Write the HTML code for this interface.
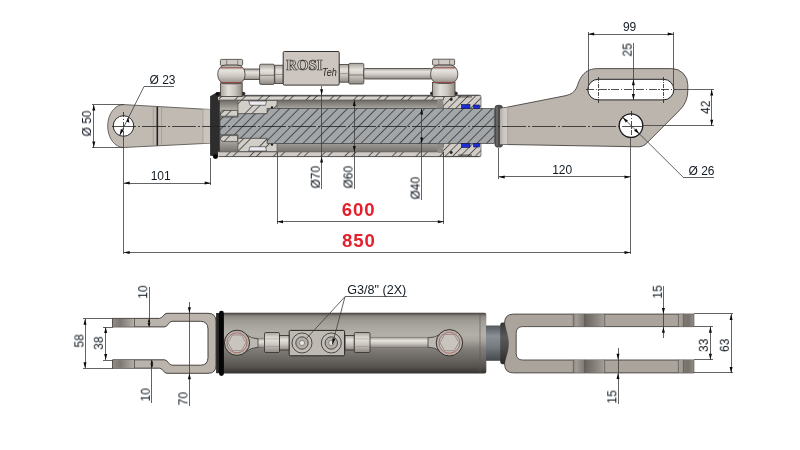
<!DOCTYPE html>
<html><head><meta charset="utf-8">
<style>
html,body{margin:0;padding:0;background:#fff;}
body{width:800px;height:450px;overflow:hidden;font-family:"Liberation Sans",sans-serif;}
svg{display:block;}
text{font-family:"Liberation Sans",sans-serif;}
.serif{font-family:"Liberation Serif",serif;}
.d{font-size:12px;fill:#121a22;}
text{filter:url(#nf);}
.l{stroke:#3c3c3c;stroke-width:0.8;fill:none;shape-rendering:crispEdges;}
.ld{stroke:#3c3c3c;stroke-width:0.8;fill:none;}
.c{stroke:#222;stroke-width:0.8;fill:none;stroke-dasharray:24 2 2 2;shape-rendering:crispEdges;}
.a{fill:#0a0a0a;}
</style></head><body>
<svg width="800" height="450" viewBox="0 0 800 450">
<defs>
<pattern id="h1" width="6.83" height="6.9" patternUnits="userSpaceOnUse" patternTransform="rotate(45)">
<line x1="1" y1="0" x2="1" y2="6.9" stroke="#151515" stroke-opacity="0.78" stroke-width="0.8" shape-rendering="crispEdges"/></pattern>
<pattern id="h2" width="16.8" height="10" patternUnits="userSpaceOnUse" patternTransform="rotate(45)">
<line x1="1" y1="0" x2="1" y2="10" stroke="#151515" stroke-opacity="0.8" stroke-width="0.8" shape-rendering="crispEdges"/><line x1="6.3" y1="0" x2="6.3" y2="10" stroke="#151515" stroke-opacity="0.8" stroke-width="0.8" shape-rendering="crispEdges"/></pattern>
<linearGradient id="gv" x1="0" y1="0" x2="0" y2="1">
<stop offset="0" stop-color="#a9a49d"/><stop offset="0.3" stop-color="#e6e3de"/><stop offset="0.6" stop-color="#cbc6c0"/><stop offset="1" stop-color="#8f8a84"/></linearGradient>
<linearGradient id="gh" x1="0" y1="0" x2="1" y2="0">
<stop offset="0" stop-color="#a9a49d"/><stop offset="0.35" stop-color="#e2dfda"/><stop offset="0.65" stop-color="#cbc6c0"/><stop offset="1" stop-color="#8f8a84"/></linearGradient>
<linearGradient id="cyl" x1="0" y1="0" x2="0" y2="1">
<stop offset="0" stop-color="#3c3936"/><stop offset="0.03" stop-color="#6e6a65"/><stop offset="0.06" stop-color="#8c8883"/><stop offset="0.13" stop-color="#9e9a94"/><stop offset="0.23" stop-color="#aaa6a0"/><stop offset="0.36" stop-color="#b3afa9"/><stop offset="0.45" stop-color="#a9a59f"/><stop offset="0.6" stop-color="#807c77"/><stop offset="0.76" stop-color="#6a6662"/><stop offset="0.89" stop-color="#55514d"/><stop offset="1" stop-color="#343230"/></linearGradient>
<linearGradient id="rod" x1="0" y1="0" x2="0" y2="1">
<stop offset="0" stop-color="#54585c"/><stop offset="0.3" stop-color="#8a9096"/><stop offset="0.6" stop-color="#767b80"/><stop offset="1" stop-color="#45484b"/></linearGradient>
<linearGradient id="hole" x1="0" y1="0" x2="1" y2="0">
<stop offset="0" stop-color="#8d8984"/><stop offset="0.5" stop-color="#b5b1ab"/><stop offset="1" stop-color="#858079"/></linearGradient>
<linearGradient id="hole2" x1="0" y1="0" x2="1" y2="0">
<stop offset="0" stop-color="#918b85"/><stop offset="0.35" stop-color="#7d7872"/><stop offset="1" stop-color="#b6b0a9"/></linearGradient>
<linearGradient id="holeA" x1="0" y1="0" x2="1" y2="0">
<stop offset="0" stop-color="#8a847e"/><stop offset="0.25" stop-color="#a39d97"/><stop offset="0.7" stop-color="#8d8781"/><stop offset="1" stop-color="#7b7670"/></linearGradient>
<linearGradient id="holeB" x1="0" y1="0" x2="1" y2="0">
<stop offset="0" stop-color="#69645f"/><stop offset="0.4" stop-color="#7f7a74"/><stop offset="1" stop-color="#a59f99"/></linearGradient>
<linearGradient id="band" x1="0" y1="0" x2="1" y2="0"><stop offset="0" stop-color="#b0aba5"/><stop offset="0.5" stop-color="#ccc7c1"/><stop offset="1" stop-color="#cfcac4"/></linearGradient>
<pattern id="h3" width="5.3" height="6" patternUnits="userSpaceOnUse" patternTransform="rotate(45)"><line x1="1" y1="0" x2="1" y2="6" stroke="#151515" stroke-opacity="0.8" stroke-width="0.8" shape-rendering="crispEdges"/></pattern>
<filter id="nf" x="-20%" y="-20%" width="140%" height="140%"><feOffset dx="0" dy="0"/></filter>
<linearGradient id="bore" x1="0" y1="0" x2="0" y2="1">
<stop offset="0" stop-color="#8f8b85"/><stop offset="0.08" stop-color="#6c6863"/><stop offset="0.215" stop-color="#aaa6a0"/><stop offset="0.785" stop-color="#9f9b96"/><stop offset="0.91" stop-color="#7a7570"/><stop offset="1" stop-color="#7a7570"/></linearGradient>
<linearGradient id="wallt" x1="0" y1="0" x2="0" y2="1">
<stop offset="0" stop-color="#85817c"/><stop offset="0.3" stop-color="#9c9893"/><stop offset="0.42" stop-color="#d6d3cd"/><stop offset="1" stop-color="#d6d3cd"/></linearGradient>
<linearGradient id="holeC" x1="0" y1="0" x2="1" y2="0"><stop offset="0" stop-color="#7d7872"/><stop offset="0.5" stop-color="#77726c"/><stop offset="1" stop-color="#928c86"/></linearGradient>
<linearGradient id="ringg" x1="0" y1="0" x2="0" y2="1"><stop offset="0" stop-color="#353535"/><stop offset="0.35" stop-color="#5a5a5a"/><stop offset="0.6" stop-color="#4a4a4a"/><stop offset="1" stop-color="#2a2a2a"/></linearGradient>
</defs>
<rect width="800" height="450" fill="#fff"/>

<!-- ================= TOP VIEW ================= -->
<g id="topview">
<!-- left rod eye -->
<path d="M123.5,104.6 L210.3,109.5 L210.3,143.2 L123.5,147.5 A15.8,21.45 0 0 1 123.5,104.6 Z" fill="#c0bab3" stroke="#55514d" stroke-width="0.85"/>
<rect x="203" y="109.4" width="7.1" height="33.8" fill="#c9c4be"/>
<line x1="153.3" y1="106.5" x2="153.3" y2="145.8" stroke="#9d9993" stroke-width="0.8"/>
<line x1="157.3" y1="106.7" x2="157.3" y2="145.6" stroke="#222" stroke-width="1.6"/>
<line x1="161.6" y1="107" x2="161.6" y2="145.4" stroke="#9d9993" stroke-width="0.8"/>
<line x1="203" y1="109.2" x2="203" y2="143.5" stroke="#9d9993" stroke-width="0.7"/>
<circle cx="123.5" cy="126" r="10.3" fill="#fff" stroke="#2a2a2a" stroke-width="1"/>

<!-- cylinder bore interior -->
<rect x="218.7" y="95.3" width="262.2" height="61.3" fill="url(#bore)"/>
<!-- outer walls -->
<rect x="218.7" y="95" width="225" height="5.1" fill="url(#wallt)"/>
<rect x="218.7" y="95.3" width="225" height="4.7" fill="url(#h2)"/>
<rect x="218.7" y="151.7" width="225" height="4.9" fill="#d0cbc6"/>
<rect x="218.7" y="151.9" width="225" height="4.7" fill="url(#h2)"/>
<line x1="218.7" y1="100.1" x2="443.5" y2="100.1" stroke="#55514d" stroke-width="0.8"/>
<line x1="218.7" y1="151.8" x2="443.5" y2="151.8" stroke="#55514d" stroke-width="0.8"/>
<!-- rod -->
<path d="M220,117 L238,117 L238,113.6 L267,113.6 L267,108.5 L494.4,108.5 L494.4,143.5 L267,143.5 L267,138.4 L238,138.4 L238,134.8 L220,134.8 Z" fill="#a2a6a9"/>
<path d="M220,117 L238,117 L238,113.6 L267,113.6 L267,108.5 L494.4,108.5 L494.4,143.5 L267,143.5 L267,138.4 L238,138.4 L238,134.8 L220,134.8 Z" fill="url(#h1)" stroke="#3a3a3a" stroke-width="0.7"/>
<!-- piston head -->
<path d="M238,100.5 L277,100.5 L277,108.5 L267,108.5 L267,113.6 L238,113.6 Z" fill="#d2cec8"/>
<path d="M238,100.5 L277,100.5 L277,108.5 L267,108.5 L267,113.6 L238,113.6 Z" fill="url(#h2)" stroke="#444" stroke-width="0.6"/>
<path d="M238,151.5 L277,151.5 L277,143.5 L267,143.5 L267,138.4 L238,138.4 Z" fill="#d2cec8"/>
<path d="M238,151.5 L277,151.5 L277,143.5 L267,143.5 L267,138.4 L238,138.4 Z" fill="url(#h2)" stroke="#444" stroke-width="0.6"/>
<path d="M248.7,101 L266.5,101 L265.5,105.3 L250,105.3 Z" fill="#e9e9ef" stroke="#333" stroke-width="0.6"/>
<path d="M248.7,151 L266.5,151 L265.5,146.7 L250,146.7 Z" fill="#e9e9ef" stroke="#333" stroke-width="0.6"/>
<circle cx="272" cy="107.4" r="1.2" fill="#1a1a1a"/><circle cx="272" cy="144.6" r="1.2" fill="#1a1a1a"/>
<!-- lock nut -->
<path d="M220.5,112 L223,110.5 L237.5,110.5 L237.5,116.2 L220.5,116.2 Z" fill="#d2cec8" stroke="#333" stroke-width="0.6"/>
<path d="M220.5,139.8 L223,141.4 L237.5,141.4 L237.5,135.6 L220.5,135.6 Z" fill="#d2cec8" stroke="#333" stroke-width="0.6"/>
<path d="M220.5,112 L223,110.5 L237.5,110.5 L237.5,116.2 L220.5,116.2 Z" fill="url(#h2)"/>
<path d="M220.5,139.8 L223,141.4 L237.5,141.4 L237.5,135.6 L220.5,135.6 Z" fill="url(#h2)"/>
<!-- gland -->
<path d="M438,100 L443.5,100 L443.5,95.3 L479.5,95.3 Q481,95.3 481,96.8 L481,108.5 L443.5,108.5 L443.5,105 L438,105 Z" fill="#d1ccc6"/>
<path d="M438,100 L443.5,100 L443.5,95.3 L479.5,95.3 Q481,95.3 481,96.8 L481,108.5 L443.5,108.5 L443.5,105 L438,105 Z" fill="url(#h3)" stroke="#444" stroke-width="0.6"/>
<path d="M438,152 L443.5,152 L443.5,156.6 L479.5,156.6 Q481,156.6 481,155.1 L481,143.5 L443.5,143.5 L443.5,147 L438,147 Z" fill="#d1ccc6"/>
<path d="M438,152 L443.5,152 L443.5,156.6 L479.5,156.6 Q481,156.6 481,155.1 L481,143.5 L443.5,143.5 L443.5,147 L438,147 Z" fill="url(#h3)" stroke="#444" stroke-width="0.6"/>
<rect x="461.5" y="104.6" width="8.5" height="3.9" fill="#1a2fd6" stroke="#0a0a40" stroke-width="0.6"/>
<rect x="473.7" y="105" width="5.6" height="3.5" fill="#1a2fd6" stroke="#0a0a40" stroke-width="0.6"/>
<rect x="461.5" y="143.5" width="8.5" height="3.9" fill="#1a2fd6" stroke="#0a0a40" stroke-width="0.6"/>
<rect x="473.7" y="143.5" width="5.6" height="3.5" fill="#1a2fd6" stroke="#0a0a40" stroke-width="0.6"/>
<path d="M458,97.3 l1,-0.8 l1,0.8 l1,-0.8 l1,0.8 l1,-0.8 l1,0.8 l1,-0.8 l1,0.8 l1,-0.8 l1,0.8 l1,-0.8 l1,0.8 l1,-0.8 l1,0.8" stroke="#111" stroke-width="0.75" fill="none"/>
<path d="M458,154.7 l1,0.8 l1,-0.8 l1,0.8 l1,-0.8 l1,0.8 l1,-0.8 l1,0.8 l1,-0.8 l1,0.8 l1,-0.8 l1,0.8 l1,-0.8 l1,0.8 l1,-0.8" stroke="#111" stroke-width="0.75" fill="none"/>
<circle cx="451.2" cy="99.5" r="1.4" fill="#222"/><circle cx="451.2" cy="152.5" r="1.4" fill="#222"/>
<rect x="437" y="100.3" width="6.3" height="8" fill="#8e8a84"/><rect x="437" y="143.7" width="6.3" height="8" fill="#8e8a84"/>
<!-- cylinder outline -->
<path d="M218.7,95.3 L479.5,95.3 M218.7,156.6 L479.5,156.6" stroke="#3a3a3a" stroke-width="0.8" fill="none"/>
<!-- left black ring / end cap -->
<path d="M210.1,96.3 L213.5,94.2 L217,92.6 Q219.4,91 220,93.4 L219.8,96.6 L218,97 L218,100.3 L219.8,100.3 L219.8,151.8 L218,151.8 L218,156 Q217.8,158.8 215.5,158.8 Q213,158.8 213,156 L210.1,155.8 Z" fill="#2d2d2d"/><circle cx="215.5" cy="156.5" r="2.3" fill="#050505"/><ellipse cx="217.6" cy="93.8" rx="2.2" ry="1.7" fill="#0a0a0a"/>
<!-- rod end ring -->
<rect x="494.6" y="104.8" width="8.4" height="42.8" rx="4.2" ry="3.4" fill="#4c4c4c"/><rect x="496" y="106.5" width="2" height="39.4" rx="1" fill="#666"/>

<!-- right rod end plate -->
<path d="M499.8,108.6 L507.6,107.1 L566,95.6 C571,94.5 574.5,92 576.5,88 C578.5,83.5 581,68.6 597.3,68.6 L671.8,68.6 A16,16 0 0 1 687.8,84.6 L687.8,91 A26.8,26.8 0 0 1 679.9,109.9 L646,143.9 A10,10 0 0 1 639,146.8 L499.8,144.4 Z" fill="#bbb5ae" stroke="#47433f" stroke-width="0.9"/>
<path d="M500.1,108.8 L507.6,107.4 L507.6,144.2 L500.1,144.2 Z" fill="url(#band)"/><line x1="507.7" y1="107.2" x2="507.7" y2="144.3" stroke="#97928c" stroke-width="0.6"/>
<rect x="587.8" y="79.3" width="86" height="20.6" rx="10.3" ry="10.3" fill="#fff" stroke="#222" stroke-width="1"/>
<circle cx="631" cy="125.6" r="11.8" fill="#fff" stroke="#1a1a1a" stroke-width="1.3"/>

<!-- fittings: left banjo -->
<ellipse cx="220.4" cy="93.6" rx="2.4" ry="1.8" fill="#2b2b2b"/><ellipse cx="243" cy="93.6" rx="2.4" ry="1.8" fill="#2b2b2b"/>
<ellipse cx="432.4" cy="93.4" rx="2.4" ry="1.8" fill="#2b2b2b"/><ellipse cx="455.4" cy="93.4" rx="2.4" ry="1.8" fill="#2b2b2b"/>
<rect x="220.6" y="83" width="21.6" height="13.5" fill="url(#gh)" stroke="#3d3935" stroke-width="0.8"/>
<rect x="220.4" y="59.4" width="22.2" height="6" rx="1" fill="#cfcac4" stroke="#3d3935" stroke-width="0.8"/><path d="M226.7,59.6 V65.2 M237.8,59.6 V65.2" stroke="#6a6661" stroke-width="0.7"/>
<rect x="244" y="69" width="16" height="10.6" fill="url(#gv)" stroke="#3d3935" stroke-width="0.8"/>
<rect x="217.8" y="65" width="27.2" height="18.8" rx="8" ry="8.5" fill="url(#gv)" stroke="#3d3935" stroke-width="0.8"/>
<line x1="220.5" y1="67.8" x2="242.3" y2="67.8" stroke="#8e4843" stroke-width="1"/>
<line x1="220.5" y1="82.6" x2="242.3" y2="82.6" stroke="#8e4843" stroke-width="1"/>
<!-- left nut + connector -->
<rect x="259.6" y="64.2" width="14.8" height="20.2" rx="1.5" fill="url(#gv)" stroke="#3d3935" stroke-width="0.8"/>
<line x1="260" y1="75.3" x2="275" y2="75.3" stroke="#5d5954" stroke-width="0.7"/>
<rect x="274.8" y="65.2" width="8.4" height="18.4" fill="url(#gv)" stroke="#3d3935" stroke-width="0.8"/>
<line x1="275" y1="74.5" x2="283.4" y2="74.5" stroke="#77736e" stroke-width="0.6"/>
<!-- valve block -->
<rect x="283.2" y="51.5" width="56" height="33.6" rx="1.2" fill="#ccc5c0" stroke="#35322f" stroke-width="1"/>
<text class="serif" x="286.2" y="70" font-weight="bold" font-size="13.6" fill="#ded8d3" stroke="#38342f" stroke-width="0.7" textLength="36.5" lengthAdjust="spacingAndGlyphs">ROSI</text>
<text x="322" y="75.8" font-style="italic" font-size="10.4" fill="#2a2725" textLength="14.8" lengthAdjust="spacingAndGlyphs">Teh</text>
<!-- right connector + nut + pipe -->
<rect x="339.4" y="64.4" width="9.4" height="17.8" fill="url(#gv)" stroke="#3d3935" stroke-width="0.8"/>
<line x1="339.4" y1="73.6" x2="348.8" y2="73.6" stroke="#77736e" stroke-width="0.6"/>
<rect x="348.8" y="63.4" width="15" height="20.6" rx="1.2" fill="url(#gv)" stroke="#3d3935" stroke-width="0.8"/>
<line x1="348.8" y1="75" x2="363.8" y2="75" stroke="#5d5954" stroke-width="0.7"/>
<rect x="363.8" y="68.5" width="68.5" height="10.5" rx="1.5" fill="url(#gv)" stroke="#3d3935" stroke-width="0.8"/>
<!-- right banjo -->
<rect x="432.5" y="82.5" width="22.5" height="14" fill="url(#gh)" stroke="#3d3935" stroke-width="0.8"/>
<rect x="432.6" y="59.2" width="22" height="6" rx="1" fill="#cfcac4" stroke="#3d3935" stroke-width="0.8"/><path d="M438.8,59.4 V65 M449.6,59.4 V65" stroke="#6a6661" stroke-width="0.7"/>
<rect x="430.6" y="65" width="27.2" height="18.4" rx="8" ry="8.5" fill="url(#gv)" stroke="#3d3935" stroke-width="0.8"/>
<line x1="433.3" y1="67.8" x2="455.2" y2="67.8" stroke="#8e4843" stroke-width="1"/>
<line x1="433.3" y1="82.4" x2="455.2" y2="82.4" stroke="#8e4843" stroke-width="1"/>
</g>

<!-- ================= TOP VIEW DIMENSIONS ================= -->
<g id="topdims">
<!-- centre lines -->
<line class="c" x1="111.5" y1="126.5" x2="643" y2="126.5"/>
<line class="c" x1="123.5" y1="112" x2="123.5" y2="140" style="stroke-dasharray:5 1.5 1.5 1.5"/>
<line class="c" x1="631" y1="111" x2="631" y2="140" style="stroke-dasharray:5 1.5 1.5 1.5"/>
<line class="c" x1="586" y1="89.6" x2="676" y2="89.6" style="stroke-dasharray:8 1.5 1.5 1.5"/>
<line class="c" x1="598.4" y1="76.5" x2="598.4" y2="103.5" style="stroke-dasharray:4 1.2 1.2 1.2"/>
<line class="c" x1="663" y1="76.5" x2="663" y2="103.5" style="stroke-dasharray:4 1.2 1.2 1.2"/>
<!-- dia 50 -->
<path class="l" d="M91.5,104.6 L124,104.6 M91.5,147.5 L124,147.5 M93.8,104.6 L93.8,147.5"/>
<path class="a" d="M93.8,104.6 l-1.5,6 l3,0 Z M93.8,147.5 l-1.5,-6 l3,0 Z"/>
<text class="d" transform="translate(91,136.5) rotate(-90)">Ø 50</text>
<!-- dia 23 -->
<path class="l" d="M174,86.6 L144,86.6"/><path class="ld" d="M144,86.6 L119.6,135.4"/>
<path class="a" d="M128.2,116.6 l1.2,6.2 l-2.7,-1.4 Z M119.6,135.4 l4,-5 l-2.7,-1.4 Z"/>
<text class="d" x="149.5" y="84.4">Ø 23</text>
<!-- 101 -->
<path class="l" d="M123.7,136 L123.7,253.5 M210.7,157.5 L210.7,185 M123.7,183 L210.7,183"/>
<path class="a" d="M123.7,183 l6,-1.5 l0,3 Z M210.7,183 l-6,-1.5 l0,3 Z"/>
<text class="d" x="160.7" y="180" text-anchor="middle">101</text>
<!-- 850 -->
<path class="l" d="M123.7,252 L630.5,252 M630.5,137.5 L630.5,254"/>
<path class="a" d="M123.7,252.4 l6,-1.5 l0,3 Z M630.5,252.4 l-6,-1.5 l0,3 Z"/>
<text x="358.8" y="247" text-anchor="middle" font-size="18.6" font-weight="bold" fill="#e3202b" letter-spacing="0.9">850</text>
<!-- 600 -->
<path class="l" d="M277,151.5 L277,223.5 M443.8,152 L443.8,223.5 M277,221.8 L443.8,221.8"/>
<path class="a" d="M277,221.8 l6,-1.5 l0,3 Z M443.8,221.8 l-6,-1.5 l0,3 Z"/>
<text x="358.6" y="215.6" text-anchor="middle" font-size="18.6" font-weight="bold" fill="#e3202b" letter-spacing="0.9">600</text>
<!-- dia 70 -->
<path class="l" d="M321.6,85.5 L321.6,188.8"/>
<path class="a" d="M321.6,95.3 l-1.5,-6 l3,0 Z M321.6,156.6 l-1.5,6 l3,0 Z"/>
<text class="d" transform="translate(319.8,188.5) rotate(-90)">Ø70</text>
<!-- dia 60 -->
<path class="l" d="M354.3,100 L354.3,188.8"/>
<path class="a" d="M354.3,100 l-1.5,6 l3,0 Z M354.3,152 l-1.5,-6 l3,0 Z"/>
<text class="d" transform="translate(352.5,188.5) rotate(-90)">Ø60</text>
<!-- dia 40 -->
<path class="l" d="M421.7,108.5 L421.7,200"/>
<path class="a" d="M421.7,108.5 l-1.5,6 l3,0 Z M421.7,143.5 l-1.5,-6 l3,0 Z"/>
<text class="d" transform="translate(419.6,199.5) rotate(-90)">Ø40</text>
<!-- 120 -->
<path class="l" d="M498.7,147.5 L498.7,178.5 M498.7,176.9 L630.5,176.9"/>
<path class="a" d="M498.7,176.9 l6,-1.5 l0,3 Z M630.5,176.9 l-6,-1.5 l0,3 Z"/>
<text class="d" x="562.2" y="174.3" text-anchor="middle">120</text>
<!-- dia 26 -->
<path class="ld" d="M622.6,117.2 L683.4,177.5"/><path class="l" d="M683.4,177.5 L713.8,177.5"/>
<path class="a" d="M622.6,117.2 l5.3,3.2 l-2.1,2.1 Z M639.4,133.9 l-5.3,-3.2 l2.1,-2.1 Z"/>
<text class="d" x="688.5" y="175">Ø 26</text>
<!-- 99 -->
<path class="l" d="M588.2,32 L588.2,89 M673.7,32 L673.7,89 M588.2,34 L673.7,34"/>
<path class="a" d="M588.2,34 l6,-1.5 l0,3 Z M673.7,34 l-6,-1.5 l0,3 Z"/>
<text class="d" x="629.6" y="30.8" text-anchor="middle">99</text>
<!-- 25 -->
<path class="l" d="M633.4,43.4 L633.4,99.9"/>
<path class="a" d="M633.4,79.3 l-1.5,6 l3,0 Z M633.4,99.9 l-1.5,-6 l3,0 Z"/>
<text class="d" transform="translate(631.6,56.6) rotate(-90)">25</text>
<!-- 42 -->
<path class="l" d="M674,89.6 L714,89.6 M643,125.8 L714,125.8 M711.7,89.6 L711.7,125.8"/>
<path class="a" d="M711.7,89.6 l-1.5,6 l3,0 Z M711.7,125.8 l-1.5,-6 l3,0 Z"/>
<text class="d" transform="translate(709.8,114) rotate(-90)">42</text>
</g>

<!-- ================= BOTTOM VIEW ================= -->
<g id="botview">
<!-- left clevis -->
<path d="M112.6,318.4 L159.5,318.4 C163,318.4 163.5,313.3 167,313.3 L208,313.3 Q216,313.3 216,321.3 L216,365.3 Q216,373.3 208,373.3 L167,373.3 C163.5,373.3 163,368.2 159.5,368.2 L112.6,368.2 L112.6,359.8 L164.5,359.8 C168,359.8 168.5,365.2 172,365.2 L200.3,365.2 Q208,365.2 208,357.5 L208,329 Q208,321.3 200.3,321.3 L172,321.3 C168.5,321.3 168,326.9 164.5,326.9 L112.6,326.9 Z" fill="#bab4ad" stroke="#3f3b37" stroke-width="0.95"/>
<rect x="113" y="318.9" width="21.3" height="7.6" fill="url(#hole2)"/>
<rect x="113" y="360.2" width="21.3" height="7.6" fill="url(#hole2)"/>
<line x1="134.5" y1="318.4" x2="134.5" y2="326.9" stroke="#3f3c39" stroke-width="0.7"/>
<line x1="134.5" y1="359.8" x2="134.5" y2="368.2" stroke="#3f3c39" stroke-width="0.7"/>
<!-- cylinder body -->
<rect x="222" y="312.8" width="264.3" height="60.8" rx="2" fill="url(#cyl)"/>
<line x1="480" y1="313.5" x2="480" y2="373.3" stroke="#5d5955" stroke-width="0.6"/>
<!-- black ring -->
<rect x="216.1" y="313" width="3.4" height="60.2" fill="#262626"/><rect x="219" y="310.7" width="4.9" height="65.3" rx="2.45" fill="#050505"/>
<!-- rod -->
<rect x="486" y="325.5" width="15" height="35.3" fill="url(#rod)"/>
<!-- ring -->
<!-- right clevis -->
<path d="M513.5,314.1 L693.8,314.1 L693.8,326.6 L522.8,326.6 Q516.2,326.6 516.2,333.2 L516.2,353.4 Q516.2,360 522.8,360 L693.8,360 L693.8,372.9 L513.5,372.9 Q504.6,372.9 504.6,364 L504.6,323 Q504.6,314.1 513.5,314.1 Z" fill="#aaa49d" stroke="#45423e" stroke-width="0.9"/>
<path d="M500.2,325 Q500.2,322.6 502.5,322.6 L504.5,322.6 C506,330 508.8,336 508.8,343.4 C508.8,351 506,357 504.5,364.2 L502.5,364.2 Q500.2,364.2 500.2,361.8 Z" fill="url(#ringg)"/>
<rect x="573.4" y="314.3" width="11.2" height="12.2" fill="url(#holeA)"/><rect x="584.6" y="314.3" width="20" height="12.2" fill="url(#holeB)"/>
<rect x="573.4" y="360.1" width="11.2" height="12.4" fill="url(#holeA)"/><rect x="584.6" y="360.1" width="20" height="12.4" fill="url(#holeB)"/>
<rect x="678.4" y="314.3" width="5" height="12.2" fill="#a49e98"/><rect x="683.3" y="314.3" width="10.2" height="12.2" fill="url(#holeC)"/>
<rect x="678.4" y="360.1" width="5" height="12.4" fill="#a49e98"/><rect x="683.3" y="360.1" width="10.2" height="12.4" fill="url(#holeC)"/>
<path d="M573.3,313.9 L573.3,326.8 M584.6,313.9 L584.6,326.8 M604.7,313.9 L604.7,326.8 M573.3,359.7 L573.3,372.9 M584.6,359.7 L584.6,372.9 M604.7,359.7 L604.7,372.9 M678.4,313.9 L678.4,326.8 M678.4,359.7 L678.4,372.9 M683.3,313.9 L683.3,326.8 M683.3,359.7 L683.3,372.9" stroke="#4d4a46" stroke-width="0.6"/>

<!-- fittings on cylinder -->
<rect x="247" y="338.7" width="18" height="8.8" fill="url(#gv)" stroke="#5f5b56" stroke-width="0.4"/>
<rect x="369" y="337.6" width="69" height="9.8" fill="url(#gv)" stroke="#5f5b56" stroke-width="0.4"/>
<path d="M246,334.5 Q251,338.6 258,338.9 L258,347.3 Q251,347.6 246,351.5 Z" fill="#bdb8b2" stroke="#2f2c29" stroke-width="0.7"/>
<path d="M440.4,334.3 Q435,337.8 428,337.8 L428,347.2 Q435,347.2 440.4,351.3 Z" fill="#bdb8b2" stroke="#2f2c29" stroke-width="0.7"/>
<circle cx="237" cy="342.8" r="12.6" fill="#b7b2ac" stroke="#2f2c29" stroke-width="1"/>
<circle cx="237" cy="342.8" r="10" fill="#c6c1bb" stroke="#a85a55" stroke-width="0.8"/>
<path d="M246,342.8 L241.5,350.6 L232.5,350.6 L228,342.8 L232.5,335 L241.5,335 Z" fill="#c9c4be" stroke="#77736e" stroke-width="0.6"/>
<circle cx="449.4" cy="342.8" r="13.2" fill="#b7b2ac" stroke="#2f2c29" stroke-width="1"/>
<circle cx="449.4" cy="342.8" r="10.4" fill="#c6c1bb" stroke="#a85a55" stroke-width="0.8"/>
<path d="M458.8,342.6 L454.1,350.7 L444.7,350.7 L440,342.6 L444.7,334.5 L454.1,334.5 Z" fill="#c9c4be" stroke="#77736e" stroke-width="0.6"/>
<rect x="264.5" y="332.5" width="15" height="20" rx="1.2" fill="url(#gv)" stroke="#2f2c29" stroke-width="0.8"/>
<line x1="264.5" y1="338.8" x2="279.5" y2="338.8" stroke="#8c8883" stroke-width="0.5"/>
<line x1="264.5" y1="346.4" x2="279.5" y2="346.4" stroke="#8c8883" stroke-width="0.5"/>
<rect x="279.5" y="335.5" width="9.8" height="14.5" fill="url(#gv)" stroke="#2f2c29" stroke-width="0.8"/>
<rect x="345" y="335.5" width="9.3" height="14.5" fill="url(#gv)" stroke="#2f2c29" stroke-width="0.8"/>
<rect x="354.3" y="332.5" width="15.7" height="20" rx="1.2" fill="url(#gv)" stroke="#2f2c29" stroke-width="0.8"/>
<line x1="354.3" y1="338.8" x2="370" y2="338.8" stroke="#8c8883" stroke-width="0.5"/>
<line x1="354.3" y1="346.4" x2="370" y2="346.4" stroke="#8c8883" stroke-width="0.5"/>
<rect x="289.2" y="330.4" width="55.4" height="25.4" rx="1.2" fill="#beb9b3" stroke="#262422" stroke-width="1"/>
<circle cx="302" cy="343" r="10" fill="#c4bfb9" stroke="#2f2c29" stroke-width="0.8"/>
<circle cx="302" cy="343" r="6.2" fill="#b3aea8" stroke="#2f2c29" stroke-width="0.8"/>
<circle cx="302" cy="343" r="2.6" fill="#e8e5e0" stroke="#5c5853" stroke-width="0.6"/>
<circle cx="331.3" cy="343" r="10" fill="#c4bfb9" stroke="#2f2c29" stroke-width="0.8"/>
<circle cx="331.3" cy="343" r="6.2" fill="#b3aea8" stroke="#2f2c29" stroke-width="0.8"/>
<circle cx="331.3" cy="343" r="2.6" fill="#e8e5e0" stroke="#5c5853" stroke-width="0.6"/>
</g>

<!-- ================= BOTTOM VIEW DIMENSIONS ================= -->
<g id="botdims">
<!-- G3/8 -->
<path class="l" d="M407,296.7 L345,296.7"/><path class="ld" d="M345,296.7 L306.3,338.6 M345,296.7 L332.3,344.5"/>
<path class="a" d="M332.3,344.5 l0.2,-6.2 l2.9,0.8 Z"/>
<text x="347.3" y="294.2" font-size="13" fill="#121a22" textLength="59" lengthAdjust="spacingAndGlyphs">G3/8" (2X)</text>
<!-- 58 -->
<path class="l" d="M82.5,318.8 L112.5,318.8 M82.5,368.2 L112.5,368.2 M85,318.8 L85,368.2"/>
<path class="a" d="M85,318.8 l-1.5,6 l3,0 Z M85,368.2 l-1.5,-6 l3,0 Z"/>
<text class="d" transform="translate(83.4,347.6) rotate(-90)">58</text>
<!-- 38 -->
<path class="l" d="M102.5,327 L112.5,327 M102.5,360 L112.5,360 M105.7,327 L105.7,360"/>
<path class="a" d="M105.7,327 l-1.5,6 l3,0 Z M105.7,360 l-1.5,-6 l3,0 Z"/>
<text class="d" transform="translate(102.8,349.8) rotate(-90)">38</text>
<!-- 10 top -->
<path class="l" d="M149,287 L149,327"/>
<path class="a" d="M149,318.6 l-1.4,4 l2.8,0 Z M149,326.9 l-1.4,-4 l2.8,0 Z"/>
<text class="d" transform="translate(147.2,298.8) rotate(-90)">10</text>
<!-- 10 bottom -->
<path class="l" d="M151.9,359.8 L151.9,402.5"/>
<path class="a" d="M151.9,359.8 l-1.4,4 l2.8,0 Z M151.9,368.2 l-1.4,-4 l2.8,0 Z"/>
<text class="d" transform="translate(149.8,401.5) rotate(-90)">10</text>
<!-- 70 -->
<path class="l" d="M189.4,302 L189.4,406"/>
<path class="a" d="M189.4,313.2 l-1.5,-6 l3,0 Z M189.4,373.3 l-1.5,6 l3,0 Z"/>
<text class="d" transform="translate(187.4,405.4) rotate(-90)">70</text>
<!-- 63 -->
<path class="l" d="M693.8,313.9 L733,313.9 M693.8,372.9 L733,372.9 M731.1,313.9 L731.1,372.9"/>
<path class="a" d="M731.1,313.9 l-1.5,6 l3,0 Z M731.1,372.9 l-1.5,-6 l3,0 Z"/>
<text class="d" transform="translate(728.8,352) rotate(-90)">63</text>
<!-- 33 -->
<path class="l" d="M693.8,326.7 L712.6,326.7 M693.8,359.8 L712.6,359.8 M710.4,326.7 L710.4,359.8"/>
<path class="a" d="M710.4,326.8 l-1.5,6 l3,0 Z M710.4,359.7 l-1.5,-6 l3,0 Z"/>
<text class="d" transform="translate(707.8,352) rotate(-90)">33</text>
<!-- 15 top -->
<path class="l" d="M663.4,285.6 L663.4,338"/>
<path class="a" d="M663.4,313.9 l-1.5,-6 l3,0 Z M663.4,326.8 l-1.5,6 l3,0 Z"/>
<text class="d" transform="translate(661.8,298.6) rotate(-90)">15</text>
<!-- 15 bottom -->
<path class="l" d="M618,348 L618,404.4"/>
<path class="a" d="M618,359.7 l-1.5,-6 l3,0 Z M618,372.9 l-1.5,6 l3,0 Z"/>
<text class="d" transform="translate(616.3,403.6) rotate(-90)">15</text>
</g>
</svg>
</body></html>
